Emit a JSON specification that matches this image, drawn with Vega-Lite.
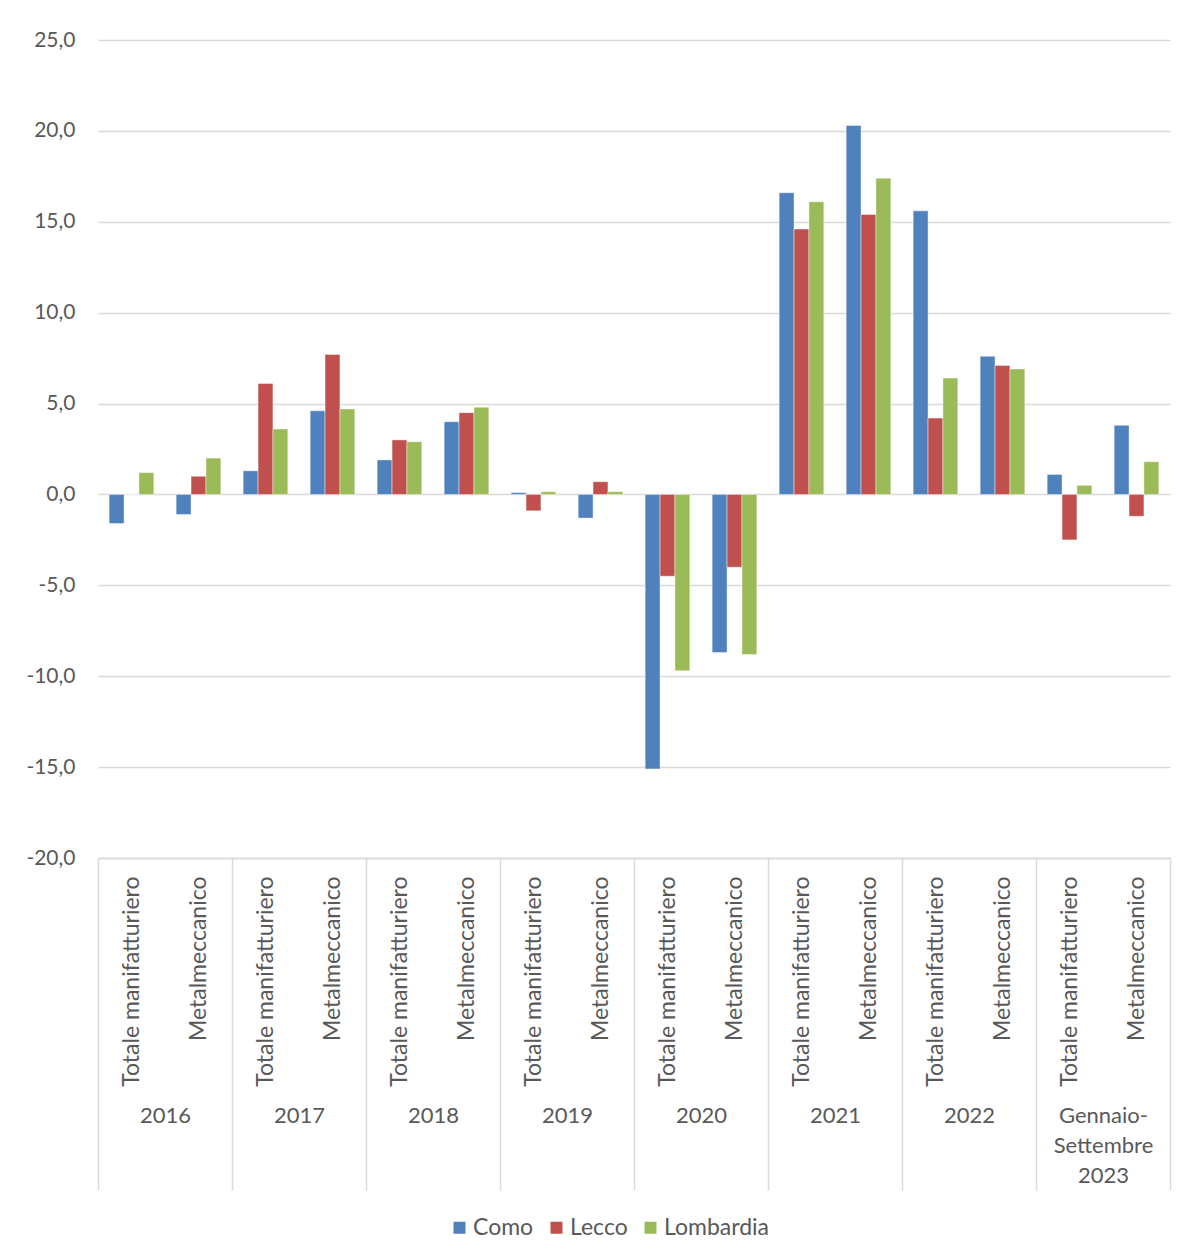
{
  "$schema": "https://vega.github.io/schema/vega-lite/v6.json",
  "width": 1072,
  "height": 818,
  "autosize": {"type": "none"},
  "padding": {"left": 98, "top": 40, "right": 17, "bottom": 398},
  "background": "white",
  "config": {
    "font": "Lato",
    "view": {"stroke": null},
    "axis": {"labelColor": "#595959", "labelFontSize": 20, "labelFont": "Lato", "title": null}
  },
  "datasets": {
    "valori": [
      {"categoria": "2016|Totale manifatturiero", "territorio": "Como", "valore": -1.6},
      {"categoria": "2016|Totale manifatturiero", "territorio": "Lecco", "valore": 0.0},
      {"categoria": "2016|Totale manifatturiero", "territorio": "Lombardia", "valore": 1.2},
      {"categoria": "2016|Metalmeccanico", "territorio": "Como", "valore": -1.1},
      {"categoria": "2016|Metalmeccanico", "territorio": "Lecco", "valore": 1.0},
      {"categoria": "2016|Metalmeccanico", "territorio": "Lombardia", "valore": 2.0},
      {"categoria": "2017|Totale manifatturiero", "territorio": "Como", "valore": 1.3},
      {"categoria": "2017|Totale manifatturiero", "territorio": "Lecco", "valore": 6.1},
      {"categoria": "2017|Totale manifatturiero", "territorio": "Lombardia", "valore": 3.6},
      {"categoria": "2017|Metalmeccanico", "territorio": "Como", "valore": 4.6},
      {"categoria": "2017|Metalmeccanico", "territorio": "Lecco", "valore": 7.7},
      {"categoria": "2017|Metalmeccanico", "territorio": "Lombardia", "valore": 4.7},
      {"categoria": "2018|Totale manifatturiero", "territorio": "Como", "valore": 1.9},
      {"categoria": "2018|Totale manifatturiero", "territorio": "Lecco", "valore": 3.0},
      {"categoria": "2018|Totale manifatturiero", "territorio": "Lombardia", "valore": 2.9},
      {"categoria": "2018|Metalmeccanico", "territorio": "Como", "valore": 4.0},
      {"categoria": "2018|Metalmeccanico", "territorio": "Lecco", "valore": 4.5},
      {"categoria": "2018|Metalmeccanico", "territorio": "Lombardia", "valore": 4.8},
      {"categoria": "2019|Totale manifatturiero", "territorio": "Como", "valore": 0.1},
      {"categoria": "2019|Totale manifatturiero", "territorio": "Lecco", "valore": -0.9},
      {"categoria": "2019|Totale manifatturiero", "territorio": "Lombardia", "valore": 0.15},
      {"categoria": "2019|Metalmeccanico", "territorio": "Como", "valore": -1.3},
      {"categoria": "2019|Metalmeccanico", "territorio": "Lecco", "valore": 0.7},
      {"categoria": "2019|Metalmeccanico", "territorio": "Lombardia", "valore": 0.15},
      {"categoria": "2020|Totale manifatturiero", "territorio": "Como", "valore": -15.1},
      {"categoria": "2020|Totale manifatturiero", "territorio": "Lecco", "valore": -4.5},
      {"categoria": "2020|Totale manifatturiero", "territorio": "Lombardia", "valore": -9.7},
      {"categoria": "2020|Metalmeccanico", "territorio": "Como", "valore": -8.7},
      {"categoria": "2020|Metalmeccanico", "territorio": "Lecco", "valore": -4.0},
      {"categoria": "2020|Metalmeccanico", "territorio": "Lombardia", "valore": -8.8},
      {"categoria": "2021|Totale manifatturiero", "territorio": "Como", "valore": 16.6},
      {"categoria": "2021|Totale manifatturiero", "territorio": "Lecco", "valore": 14.6},
      {"categoria": "2021|Totale manifatturiero", "territorio": "Lombardia", "valore": 16.1},
      {"categoria": "2021|Metalmeccanico", "territorio": "Como", "valore": 20.3},
      {"categoria": "2021|Metalmeccanico", "territorio": "Lecco", "valore": 15.4},
      {"categoria": "2021|Metalmeccanico", "territorio": "Lombardia", "valore": 17.4},
      {"categoria": "2022|Totale manifatturiero", "territorio": "Como", "valore": 15.6},
      {"categoria": "2022|Totale manifatturiero", "territorio": "Lecco", "valore": 4.2},
      {"categoria": "2022|Totale manifatturiero", "territorio": "Lombardia", "valore": 6.4},
      {"categoria": "2022|Metalmeccanico", "territorio": "Como", "valore": 7.6},
      {"categoria": "2022|Metalmeccanico", "territorio": "Lecco", "valore": 7.1},
      {"categoria": "2022|Metalmeccanico", "territorio": "Lombardia", "valore": 6.9},
      {"categoria": "2023|Totale manifatturiero", "territorio": "Como", "valore": 1.1},
      {"categoria": "2023|Totale manifatturiero", "territorio": "Lecco", "valore": -2.5},
      {"categoria": "2023|Totale manifatturiero", "territorio": "Lombardia", "valore": 0.5},
      {"categoria": "2023|Metalmeccanico", "territorio": "Como", "valore": 3.8},
      {"categoria": "2023|Metalmeccanico", "territorio": "Lecco", "valore": -1.2},
      {"categoria": "2023|Metalmeccanico", "territorio": "Lombardia", "valore": 1.8}
    ],
    "anni": [
      {"anno": "2016"},
      {"anno": "2017"},
      {"anno": "2018"},
      {"anno": "2019"},
      {"anno": "2020"},
      {"anno": "2021"},
      {"anno": "2022"},
      {"anno": "Gennaio-|Settembre|2023"}
    ]
  },
  "layer": [
    {
      "data": {"name": "valori"},
      "mark": {"type": "bar", "stroke": "white", "strokeWidth": 0.6, "strokeOpacity": 0.7},
      "encoding": {
        "x": {
          "field": "categoria",
          "type": "nominal",
          "sort": null,
          "scale": {"paddingInner": 0, "paddingOuter": 0},
          "axis": {
            "orient": "bottom",
            "domain": true,
            "domainColor": "#d9d9d9",
            "domainWidth": 1.5,
            "ticks": false,
            "grid": false,
            "labelAngle": -90,
            "labelFontSize": 23,
            "labelPadding": 18,
            "labelLimit": 0,
            "labelOverlap": false,
            "labelExpr": "split(datum.label, '|')[1]"
          }
        },
        "xOffset": {
          "field": "territorio",
          "type": "nominal",
          "scale": {"domain": ["Como", "Lecco", "Lombardia"], "paddingInner": 0, "paddingOuter": 0.75}
        },
        "y": {
          "field": "valore",
          "type": "quantitative",
          "scale": {"domain": [-20, 25], "nice": false, "zero": false},
          "axis": {
            "values": [-20, -15, -10, -5, 0, 5, 10, 15, 20, 25],
            "domain": false,
            "ticks": false,
            "grid": true,
            "gridColor": "#d9d9d9",
            "gridWidth": 1.5,
            "labelFontSize": 21,
            "labelPadding": 23,
            "labelExpr": "replace(replace(format(datum.value, '.1f'), '.', ','), '\u2212', '-')"
          }
        },
        "color": {
          "field": "territorio",
          "type": "nominal",
          "scale": {"domain": ["Como", "Lecco", "Lombardia"], "range": ["#4F81BD", "#C0504D", "#9BBB59"]},
          "legend": {
            "title": null,
            "orient": "none",
            "direction": "horizontal",
            "legendX": 350,
            "legendY": 1176,
            "symbolType": "square",
            "symbolSize": 144,
            "symbolStrokeWidth": 0,
            "labelFontSize": 23,
            "labelFont": "Lato",
            "labelColor": "#595959",
            "labelOffset": 2,
            "columnPadding": 11
          }
        }
      }
    },
    {
      "data": {"name": "anni"},
      "mark": {"type": "point", "opacity": 0},
      "encoding": {
        "x": {
          "field": "anno",
          "type": "nominal",
          "sort": null,
          "scale": {"paddingInner": 0, "paddingOuter": 0},
          "axis": {
            "orient": "bottom",
            "domain": false,
            "grid": false,
            "ticks": true,
            "tickBand": "extent",
            "tickSize": 332,
            "tickColor": "#d9d9d9",
            "tickWidth": 1.5,
            "labelAngle": 0,
            "labelFontSize": 22,
            "labelPadding": -85,
            "labelBaseline": "top",
            "labelLineHeight": 30,
            "labelLimit": 0,
            "labelExpr": "split(datum.label, '|')"
          }
        }
      }
    }
  ],
  "resolve": {"scale": {"x": "independent"}, "axis": {"x": "independent"}}
}
